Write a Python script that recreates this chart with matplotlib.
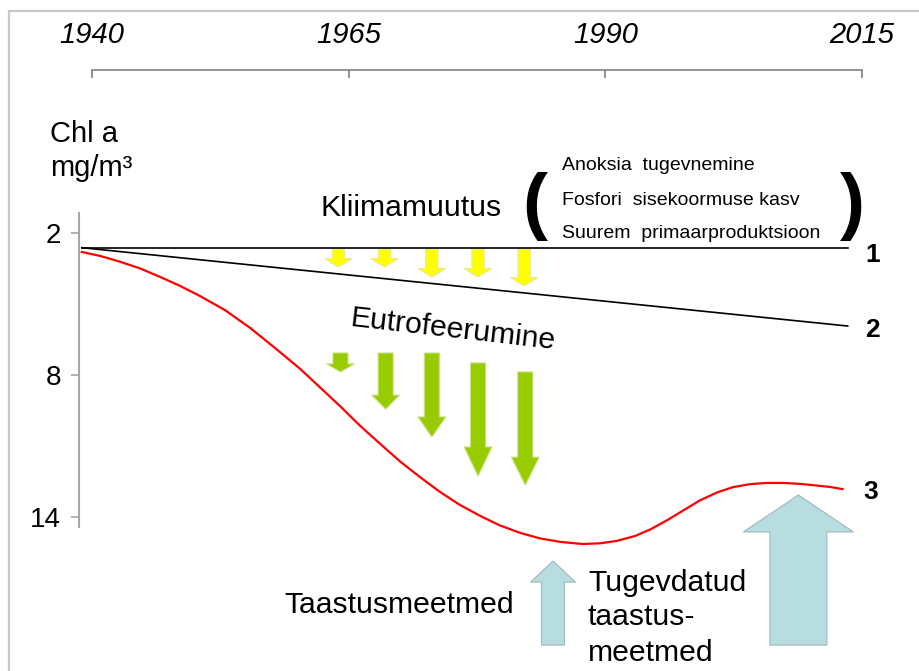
import numpy as np
import matplotlib.pyplot as plt
from matplotlib.patches import FancyArrow, Rectangle

plt.rcParams['font.family'] = ['Liberation Sans', 'DejaVu Sans']

# --- data ---
year_ticks = [1940, 1965, 1990, 2015]
chl_ticks = [2, 8, 14]

# scenario 1 and 2: straight lines
line_years = [1939.0, 2013.6]
line1_chl = [2.62, 2.62]
line2_chl = [2.62, 5.93]

# scenario 3: red curve
curve_years = [1939.0, 1940.8, 1942.7, 1944.7, 1946.6, 1948.6, 1950.5, 1953.0,
               1955.4, 1957.8, 1960.3, 1962.2, 1964.2, 1966.1, 1968.1, 1970.0,
               1972.0, 1973.9, 1975.8, 1977.8, 1979.7, 1981.7, 1983.6, 1985.6,
               1987.8, 1989.5, 1991.1, 1992.9, 1994.4, 1996.0, 1997.6, 1999.2,
               2000.9, 2002.4, 2004.1, 2005.7, 2007.3, 2009.0, 2010.6, 2011.9,
               2013.1]
curve_chl = [2.80, 2.97, 3.21, 3.50, 3.85, 4.24, 4.66, 5.27,
             6.01, 6.85, 7.75, 8.52, 9.33, 10.14, 10.92, 11.65,
             12.33, 12.94, 13.48, 13.95, 14.35, 14.67, 14.90, 15.05,
             15.14, 15.11, 15.01, 14.80, 14.52, 14.14, 13.72, 13.30,
             12.96, 12.74, 12.61, 12.56, 12.56, 12.60, 12.67, 12.73,
             12.82]

# climate change arrows (yellow)
yellow_x = [1964.0, 1968.5, 1973.1, 1977.6, 1982.1]
yellow_top = [2.68, 2.68, 2.68, 2.68, 2.68]
yellow_tip = [3.44, 3.44, 3.86, 3.86, 4.24]

# eutrophication arrows (green)
green_x = [1964.2, 1968.6, 1973.1, 1977.6, 1982.2]
green_top = [7.07, 7.07, 7.07, 7.49, 7.87]
green_tip = [7.87, 9.44, 10.62, 12.27, 12.65]

# restoration arrows (blue)
blue_x = [1984.9, 2008.8]
blue_base = [19.41, 19.41]
blue_tip = [15.86, 13.07]

bracket_lines = ["Anoksia  tugevnemine", "Fosfori  sisekoormuse kasv",
                 "Suurem  primaarproduktsioon"]

# --- figure ---
fig = plt.figure(figsize=(9.19, 6.71), dpi=100)
ax = fig.add_axes([79 / 919, 0, 1 - 79 / 919, 1])
ax.set_xlim(1938.73, 2020.55)
ax.set_ylim(20.505, -7.844)

# outer gray frame
fig.patches.append(Rectangle((9 / 919, -0.1), 1.2, (671 - 11) / 671 + 0.1,
                             transform=fig.transFigure, fill=False,
                             edgecolor='#c8c8c8', linewidth=1.6))

for s in ['right', 'bottom']:
    ax.spines[s].set_visible(False)
ax.spines['left'].set_bounds(1.155, 14.42)
ax.spines['left'].set_color('#a6a6a6')
ax.spines['left'].set_linewidth(1.5)
ax.spines['top'].set_position(('data', -4.886))
ax.spines['top'].set_bounds(1940, 2015)
ax.spines['top'].set_color('#808080')
ax.spines['top'].set_linewidth(1.2)

ax.xaxis.tick_top()
ax.set_xticks(year_ticks)
ax.set_xticklabels([str(y) for y in year_ticks], fontsize=21, style='italic')
ax.tick_params(axis='x', direction='in', length=6, width=1.2, color='#808080', pad=15)
ax.set_yticks(chl_ticks)
ax.set_yticklabels([str(v) for v in chl_ticks], fontsize=20)
ax.tick_params(axis='y', direction='out', length=6, width=1.2, color='#a6a6a6', pad=7)

# lines
ax.plot(line_years, line1_chl, color='black', linewidth=1.2)
ax.plot(line_years, line2_chl, color='black', linewidth=1.2)
ax.plot(curve_years, curve_chl, color='red', linewidth=1.6)

ax.text(2016.0, 2.93, "1", fontsize=19, fontweight='bold', ha='center', va='center')
ax.text(2016.0, 6.10, "2", fontsize=19, fontweight='bold', ha='center', va='center')
ax.text(2015.8, 12.94, "3", fontsize=19, fontweight='bold', ha='center', va='center')


def down_arrow(x, top, tip, shaft, head_w, head_l, color, edge):
    ax.add_patch(FancyArrow(x, top, 0, tip - top, width=shaft, head_width=head_w,
                            head_length=head_l, length_includes_head=True,
                            facecolor=color, edgecolor=edge, linewidth=0.8))


for x, t, p in zip(yellow_x, yellow_top, yellow_tip):
    down_arrow(x, t, p, 1.2, 2.7, 0.36, '#ffff00', '#e8e8a0')

green_head = [0.34, 0.59, 0.85, 1.23, 1.18]
for x, t, p, hl in zip(green_x, green_top, green_tip, green_head):
    down_arrow(x, t, p, 1.46, 2.7, hl, '#99cc00', '#c8e080')

blue_shaft = [2.24, 5.55]
blue_head_w = [4.38, 10.71]
blue_head_l = [0.89, 1.56]
for x, b, p, sw, hw, hl in zip(blue_x, blue_base, blue_tip, blue_shaft, blue_head_w, blue_head_l):
    ax.add_patch(FancyArrow(x, b, 0, p - b, width=sw, head_width=hw, head_length=hl,
                            length_includes_head=True, facecolor='#b7dde1',
                            edgecolor='#9fb8bc', linewidth=0.8))

# texts
ax.text(1935.9, -2.2, "Chl a", fontsize=21, ha='left', va='center')
ax.text(1935.9, -0.75, "mg/m³", fontsize=21, ha='left', va='center')
ax.text(1971.1, 0.94, "Kliimamuutus", fontsize=21.7, ha='center', va='center')
ax.text(1983.15, 0.86, "(", fontsize=54, fontweight='bold', ha='center', va='center')
ax.text(2014.1, 0.90, ")", fontsize=54, fontweight='bold', ha='center', va='center')
for yv, s in zip([-0.87, 0.61, 2.0], bracket_lines):
    ax.text(1985.8, yv, s, fontsize=14, ha='left', va='center')
ax.text(1975.1, 6.10, "Eutrofeerumine", fontsize=21.7, ha='center', va='center',
        rotation=-6.5, rotation_mode='anchor')
ax.text(1969.9, 17.72, "Taastusmeetmed", fontsize=21.7, ha='center', va='center')
for yv, s in zip([16.79, 18.22, 19.74], ["Tugevdatud", "taastus-", "meetmed"]):
    ax.text(1988.3, yv, s, fontsize=21.7, ha='left', va='center')

fig.savefig("out.png", dpi=100)
